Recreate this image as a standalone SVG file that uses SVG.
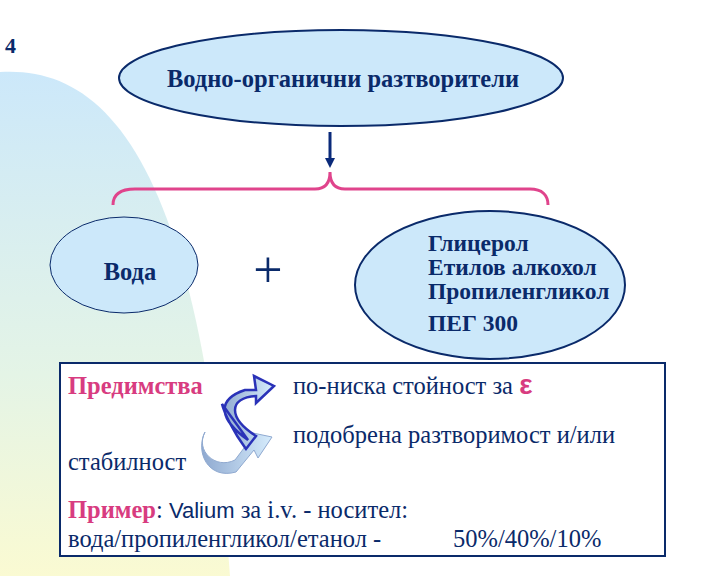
<svg xmlns="http://www.w3.org/2000/svg" width="720" height="576" viewBox="0 0 720 576">
<defs>
<linearGradient id="bg" x1="0" y1="0" x2="0" y2="1"><stop offset="0" stop-color="#cce8fa"/><stop offset="0.6" stop-color="#e4f4e6"/><stop offset="1" stop-color="#fafad2"/></linearGradient>
<linearGradient id="ar" x1="0" y1="0" x2="1" y2="0"><stop offset="0" stop-color="#8fa9d0"/><stop offset="1" stop-color="#d6ecfc"/></linearGradient>
</defs>
<style>
.t{font-family:"Liberation Serif",serif;fill:#0a2a6a}
.b{font-weight:bold}
.p{fill:#d83c80}
.node{fill:#cce8fa;stroke:#0a2a6a}
</style>
<rect width="720" height="576" fill="#fff"/>
<path d="M0,72 C110,65 200,170 230,576 L0,576 Z" fill="url(#bg)"/>
<text x="5" y="53" class="t b" font-size="22">4</text>
<g id="top"><ellipse cx="341" cy="78" rx="222" ry="48" class="node" stroke-width="2"/>
<text x="343" y="87" class="t b" font-size="24.5" text-anchor="middle">Водно-органични разтворители</text></g>
<g id="connectors">
<line x1="330" y1="132" x2="330" y2="160" stroke="#0a2a7a" stroke-width="3"/>
<path d="M325,158 L335,158 L330,168 Z" fill="#0a2a7a"/>
<path d="M113,205 C113,195 120,189 135,189 L315,189 C325,189 330,183 330,172 C330,183 335,189 345,189 L530,189 C542,189 548,195 548,205" fill="none" stroke="#e0448c" stroke-width="3"/>
</g>
<g id="voda"><ellipse cx="124" cy="265" rx="74" ry="48" class="node" stroke-width="1"/>
<text x="130" y="280" class="t b" font-size="24.5" text-anchor="middle">Вода</text></g>
<text x="268" y="287" class="t" font-size="52" text-anchor="middle">+</text>
<g id="solv"><ellipse cx="490" cy="285" rx="135" ry="74" class="node" stroke-width="2"/>
<text class="t b" font-size="23.5"><tspan x="428" y="251">Глицерол</tspan><tspan x="428" y="275">Етилов алкохол</tspan><tspan x="428" y="299">Пропиленгликол</tspan><tspan x="428" y="331">ПЕГ 300</tspan></text></g>
<g id="box"><rect x="60" y="363" width="605" height="193" fill="#fff" stroke="#0a2a6a" stroke-width="2"/>
<path d="M205,432 C195,450 215,470 235,460 L250,440 L248,432 L272,437 L258,458 L254,450 L236,472 C208,480 195,452 205,432 Z" fill="url(#ar)" stroke="#8fa9d0" stroke-width="1"/>
<path d="M248,440 C220,420 215,400 245,390 L256,390 L254,376 L274,386 L256,403 L256,396 C228,398 228,418 256,436 L246,449 C232,430 224,412 222,404 Z" fill="url(#ar)" stroke="#2a32b8" stroke-width="2.5"/>
<text x="68" y="394" class="t p b" font-size="24.5">Предимства</text>
<text x="293" y="394" class="t" font-size="24.5">по-ниска стойност за <tspan class="p" font-family="Liberation Sans,sans-serif" font-weight="bold" font-size="28">ε</tspan></text>
<text x="293" y="443" class="t" font-size="24.5">подобрена разтворимост и/или</text>
<text x="68" y="470" class="t" font-size="24.5">стабилност</text>
<text x="68" y="518" class="t" font-size="24.5"><tspan class="p b">Пример</tspan>: <tspan font-family="Liberation Sans,sans-serif" font-size="22">Valium</tspan> за i.v. - носител:</text>
<text x="68" y="547" class="t" font-size="24.5">вода/пропиленгликол/етанол   -<tspan x="453">50%/40%/10%</tspan></text>
</g>
</svg>
